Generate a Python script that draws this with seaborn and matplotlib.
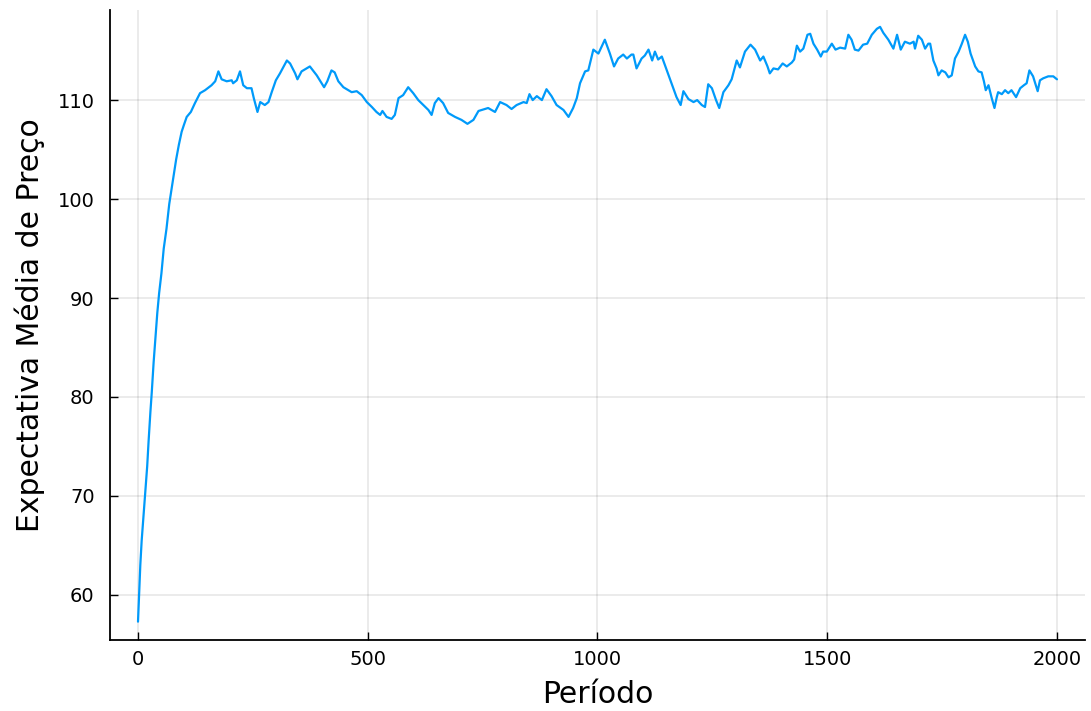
import pandas as pd
import seaborn as sns
import matplotlib
matplotlib.use("Agg")
import matplotlib.pyplot as plt

# valores (periodo, expectativa media de preco)
periodo = [0, 2, 5, 8, 12, 16, 20, 23, 27, 30, 34, 38, 42, 46, 51, 56, 62, 68, 73, 78,
           83, 89, 95, 100, 106, 115, 124, 135, 146, 160, 168, 175, 182, 193, 204, 207,
           215, 222, 229, 237, 247, 252, 260, 266, 276, 284, 291, 300, 309, 324, 331,
           342, 347, 356, 374, 389, 405, 412, 421, 428, 436, 447, 458, 465, 476, 487,
           498, 509, 519, 527, 532, 541, 552, 559, 567, 577, 588, 599, 610, 621, 632,
           639, 646, 654, 664, 675, 690, 704, 717, 730, 741, 755, 762, 777, 788, 802,
           813, 824, 839, 846, 852, 859, 868, 879, 889, 900, 911, 926, 937, 947, 955,
           962, 973, 980, 991, 1002, 1016, 1027, 1036, 1045, 1056, 1064, 1074, 1078,
           1085, 1096, 1103, 1111, 1119, 1125, 1132, 1140, 1151, 1161, 1172, 1181, 1187,
           1198, 1209, 1217, 1227, 1234, 1241, 1249, 1258, 1265, 1274, 1285, 1292, 1303,
           1310, 1321, 1333, 1343, 1354, 1361, 1370, 1375, 1383, 1393, 1403, 1412, 1423,
           1428, 1434, 1441, 1448, 1457, 1463, 1470, 1478, 1486, 1491, 1499, 1510, 1518,
           1528, 1539, 1546, 1553, 1560, 1568, 1578, 1587, 1597, 1608, 1615, 1622, 1633,
           1644, 1652, 1660, 1669, 1680, 1688, 1691, 1698, 1706, 1713, 1720, 1724, 1731,
           1738, 1742, 1749, 1757, 1764, 1771, 1778, 1786, 1793, 1800, 1806, 1812, 1822,
           1829, 1836, 1841, 1845, 1851, 1858, 1864, 1869, 1872, 1880, 1887, 1894, 1901,
           1911, 1920, 1928, 1934, 1940, 1948, 1954, 1958, 1963, 1970, 1981, 1992, 2000]
expectativa = [57.3, 59.5, 63.0, 65.5, 68.0, 70.5, 73.0, 75.5, 78.5, 80.5, 83.5, 86.0,
               88.5, 90.5, 92.5, 95.0, 97.0, 99.5, 101.0, 102.5, 104.0, 105.5, 106.8,
               107.5, 108.3, 108.8, 109.7, 110.7, 111.0, 111.5, 111.9, 112.9, 112.1,
               111.9, 112.0, 111.7, 112.0, 112.9, 111.5, 111.2, 111.2, 110.2, 108.8,
               109.8, 109.5, 109.8, 110.8, 112.0, 112.7, 114.0, 113.7, 112.7, 112.1,
               112.9, 113.4, 112.5, 111.3, 111.9, 113.0, 112.8, 111.9, 111.3, 111.0,
               110.8, 110.9, 110.5, 109.8, 109.3, 108.8, 108.5, 108.9, 108.3, 108.1,
               108.5, 110.2, 110.5, 111.3, 110.7, 110.0, 109.5, 109.0, 108.5, 109.7,
               110.2, 109.7, 108.7, 108.3, 108.0, 107.6, 108.0, 108.9, 109.1, 109.2,
               108.8, 109.8, 109.5, 109.1, 109.5, 109.8, 109.7, 110.6, 110.0, 110.4,
               110.0, 111.1, 110.4, 109.5, 109.0, 108.3, 109.2, 110.2, 111.7, 112.9,
               113.0, 115.1, 114.7, 116.1, 114.7, 113.4, 114.2, 114.6, 114.2, 114.6,
               114.6, 113.2, 114.2, 114.5, 115.1, 114.0, 114.9, 114.1, 114.4, 113.0,
               111.7, 110.3, 109.5, 110.9, 110.1, 109.8, 110.0, 109.5, 109.3, 111.6,
               111.2, 110.0, 109.2, 110.8, 111.5, 112.1, 114.0, 113.3, 114.9, 115.6,
               115.1, 114.0, 114.4, 113.4, 112.7, 113.2, 113.1, 113.7, 113.4, 113.8,
               114.1, 115.5, 114.9, 115.2, 116.6, 116.7, 115.7, 115.1, 114.4, 114.9,
               114.9, 115.7, 115.1, 115.3, 115.2, 116.6, 116.1, 115.1, 115.0, 115.6,
               115.7, 116.6, 117.2, 117.4, 116.8, 116.1, 115.2, 116.6, 115.1, 115.9,
               115.7, 115.9, 115.2, 116.5, 116.1, 115.2, 115.7, 115.7, 114.0, 113.2,
               112.5, 113.0, 112.8, 112.3, 112.5, 114.2, 114.9, 115.7, 116.6, 115.9,
               114.7, 113.4, 112.9, 112.8, 111.9, 111.0, 111.5, 110.2, 109.2, 110.3,
               110.8, 110.6, 111.0, 110.7, 111.0, 110.3, 111.2, 111.5, 111.7, 113.0,
               112.4, 111.5, 110.9, 112.0, 112.2, 112.4, 112.4, 112.1]

x_ticks = [0, 500, 1000, 1500, 2000]
y_ticks = [60, 70, 80, 90, 100, 110]

df = pd.DataFrame({"Período": periodo, "Expectativa": expectativa})

sns.set_theme(style="ticks")
plt.rcParams["font.family"] = ["DejaVu Sans"]
plt.rcParams["text.color"] = "black"
plt.rcParams["axes.labelcolor"] = "black"

fig = plt.figure(figsize=(10.91, 7.11), dpi=100)
ax = fig.add_axes([0.1008, 0.0999, 0.8937, 0.886])

sns.lineplot(x="Período", y="Expectativa", data=df, ax=ax,
             color="#009AFA", linewidth=1.6)

ax.set_xlim(-61, 2061)
ax.set_ylim(55.45, 119.1)
ax.set_xticks(x_ticks)
ax.set_yticks(y_ticks)
ax.grid(True, color="black", alpha=0.1, linewidth=1.1)

for s in ["top", "right"]:
    ax.spines[s].set_visible(False)
for s in ["left", "bottom"]:
    ax.spines[s].set_color("black")
    ax.spines[s].set_linewidth(1.3)

ax.tick_params(axis="both", direction="in", length=6, width=1.0,
               colors="black", labelsize=14)
ax.tick_params(axis="x", pad=7)
ax.tick_params(axis="y", pad=11)

ax.set_xlabel("Período", fontsize=21.5, labelpad=8)
ax.set_ylabel("Expectativa Média de Preço", fontsize=21.5, labelpad=9)

fig.savefig("out.png", dpi=100)
